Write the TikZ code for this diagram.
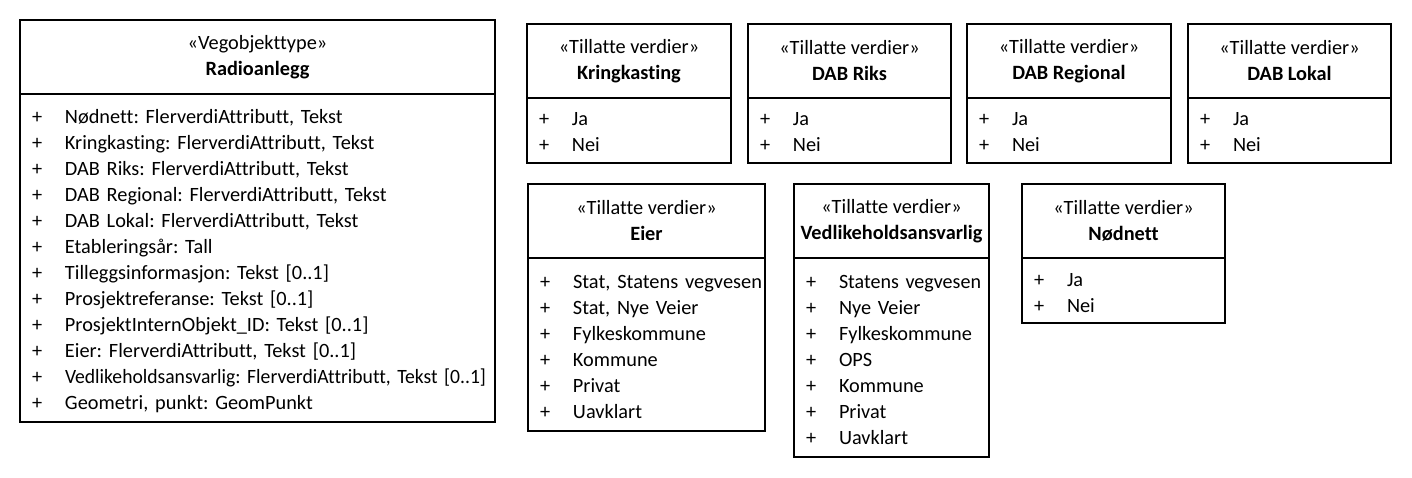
\documentclass[tikz,border=0pt]{standalone}
\usepackage{fontspec}
\setmainfont{Carlito}[Ligatures=NoCommon]
\usetikzlibrary{positioning}

\frenchspacing
\newcommand\itemstrut{\rule{0pt}{21.5pt}\rule[-4.5pt]{0pt}{4.5pt}}
\newcommand\attr[1]{\mbox{\makebox[33pt][l]{+}#1\itemstrut}}
\newcommand\squeeze[2]{\resizebox{#1}{\height}{#2}}

\begin{document}
\begin{tikzpicture}[
    x=1pt, y=-1pt,
    font=\fontsize{20.3}{26}\selectfont,
    umlhead/.style={rectangle, draw, line width=1.6pt, outer sep=0pt,
                    minimum height=74pt, align=center},
    umlbody/.style={rectangle, draw, line width=1.6pt, outer sep=0pt,
                    align=left, inner xsep=12pt, inner ysep=6.5pt}]
  \useasboundingbox (0,0) rectangle (1412,478);

  % the road object type
  \node[umlhead, minimum width=475pt, anchor=north west] (radiohead) at (20,20)
    {«Vegobjekttype»\\\textbf{Radioanlegg}};
  \node[umlbody, text width=451pt, minimum height=328pt, below=0pt of radiohead] (radiobody)
    {\attr{Nødnett: FlerverdiAttributt, Tekst}\\
     \attr{Kringkasting: FlerverdiAttributt, Tekst}\\
     \attr{DAB Riks: FlerverdiAttributt, Tekst}\\
     \attr{DAB Regional: FlerverdiAttributt, Tekst}\\
     \attr{DAB Lokal: FlerverdiAttributt, Tekst}\\
     \attr{Etableringsår: Tall}\\
     \attr{Tilleggsinformasjon: Tekst [0..1]}\\
     \attr{Prosjektreferanse: Tekst [0..1]}\\
     \attr{ProsjektInternObjekt\_ID: Tekst [0..1]}\\
     \attr{Eier: FlerverdiAttributt, Tekst [0..1]}\\
     \attr{\squeeze{421pt}{Vedlikeholdsansvarlig: FlerverdiAttributt, Tekst [0..1]}}\\
     \attr{Geometri, punkt: GeomPunkt}};

  % allowed values, first row
  \node[umlhead, minimum width=204pt, anchor=north west] (kringhead) at (527,24)
    {«Tillatte verdier»\\\textbf{Kringkasting}};
  \node[umlbody, text width=180pt, minimum height=65pt, below=0pt of kringhead] (kringbody)
    {\attr{Ja}\\\attr{Nei}};

  \node[umlhead, minimum width=203pt, right=17pt of kringhead] (rikshead)
    {«Tillatte verdier»\\\textbf{DAB Riks}};
  \node[umlbody, text width=179pt, minimum height=65pt, below=0pt of rikshead] (riksbody)
    {\attr{Ja}\\\attr{Nei}};

  \node[umlhead, minimum width=204pt, right=16pt of rikshead] (regionhead)
    {«Tillatte verdier»\\\textbf{DAB Regional}};
  \node[umlbody, text width=180pt, minimum height=65pt, below=0pt of regionhead] (regionbody)
    {\attr{Ja}\\\attr{Nei}};

  \node[umlhead, minimum width=203pt, right=17pt of regionhead] (lokalhead)
    {«Tillatte verdier»\\\textbf{DAB Lokal}};
  \node[umlbody, text width=179pt, minimum height=65pt, below=0pt of lokalhead] (lokalbody)
    {\attr{Ja}\\\attr{Nei}};

  % allowed values, second row
  \node[umlhead, minimum width=237pt, anchor=north west] (eierhead) at (528,184)
    {«Tillatte verdier»\\\textbf{Eier}};
  \node[umlbody, text width=213pt, minimum height=173pt, below=0pt of eierhead] (eierbody)
    {\attr{\squeeze{189pt}{Stat, Statens vegvesen}}\\
     \attr{Stat, Nye Veier}\\
     \attr{Fylkeskommune}\\
     \attr{Kommune}\\
     \attr{Privat}\\
     \attr{Uavklart}};

  \node[umlhead, minimum width=195pt, right=29pt of eierhead] (vedlhead)
    {«Tillatte verdier»\\\squeeze{182pt}{\textbf{Vedlikeholdsansvarlig}}};
  \node[umlbody, text width=171pt, minimum height=199pt, below=0pt of vedlhead] (vedlbody)
    {\attr{\squeeze{142pt}{Statens vegvesen}}\\
     \attr{Nye Veier}\\
     \attr{Fylkeskommune}\\
     \attr{OPS}\\
     \attr{Kommune}\\
     \attr{Privat}\\
     \attr{Uavklart}};

  \node[umlhead, minimum width=203pt, right=33pt of vedlhead] (nodhead)
    {«Tillatte verdier»\\\textbf{Nødnett}};
  \node[umlbody, text width=179pt, minimum height=65pt, below=0pt of nodhead] (nodbody)
    {\attr{Ja}\\\attr{Nei}};
\end{tikzpicture}
\end{document}
